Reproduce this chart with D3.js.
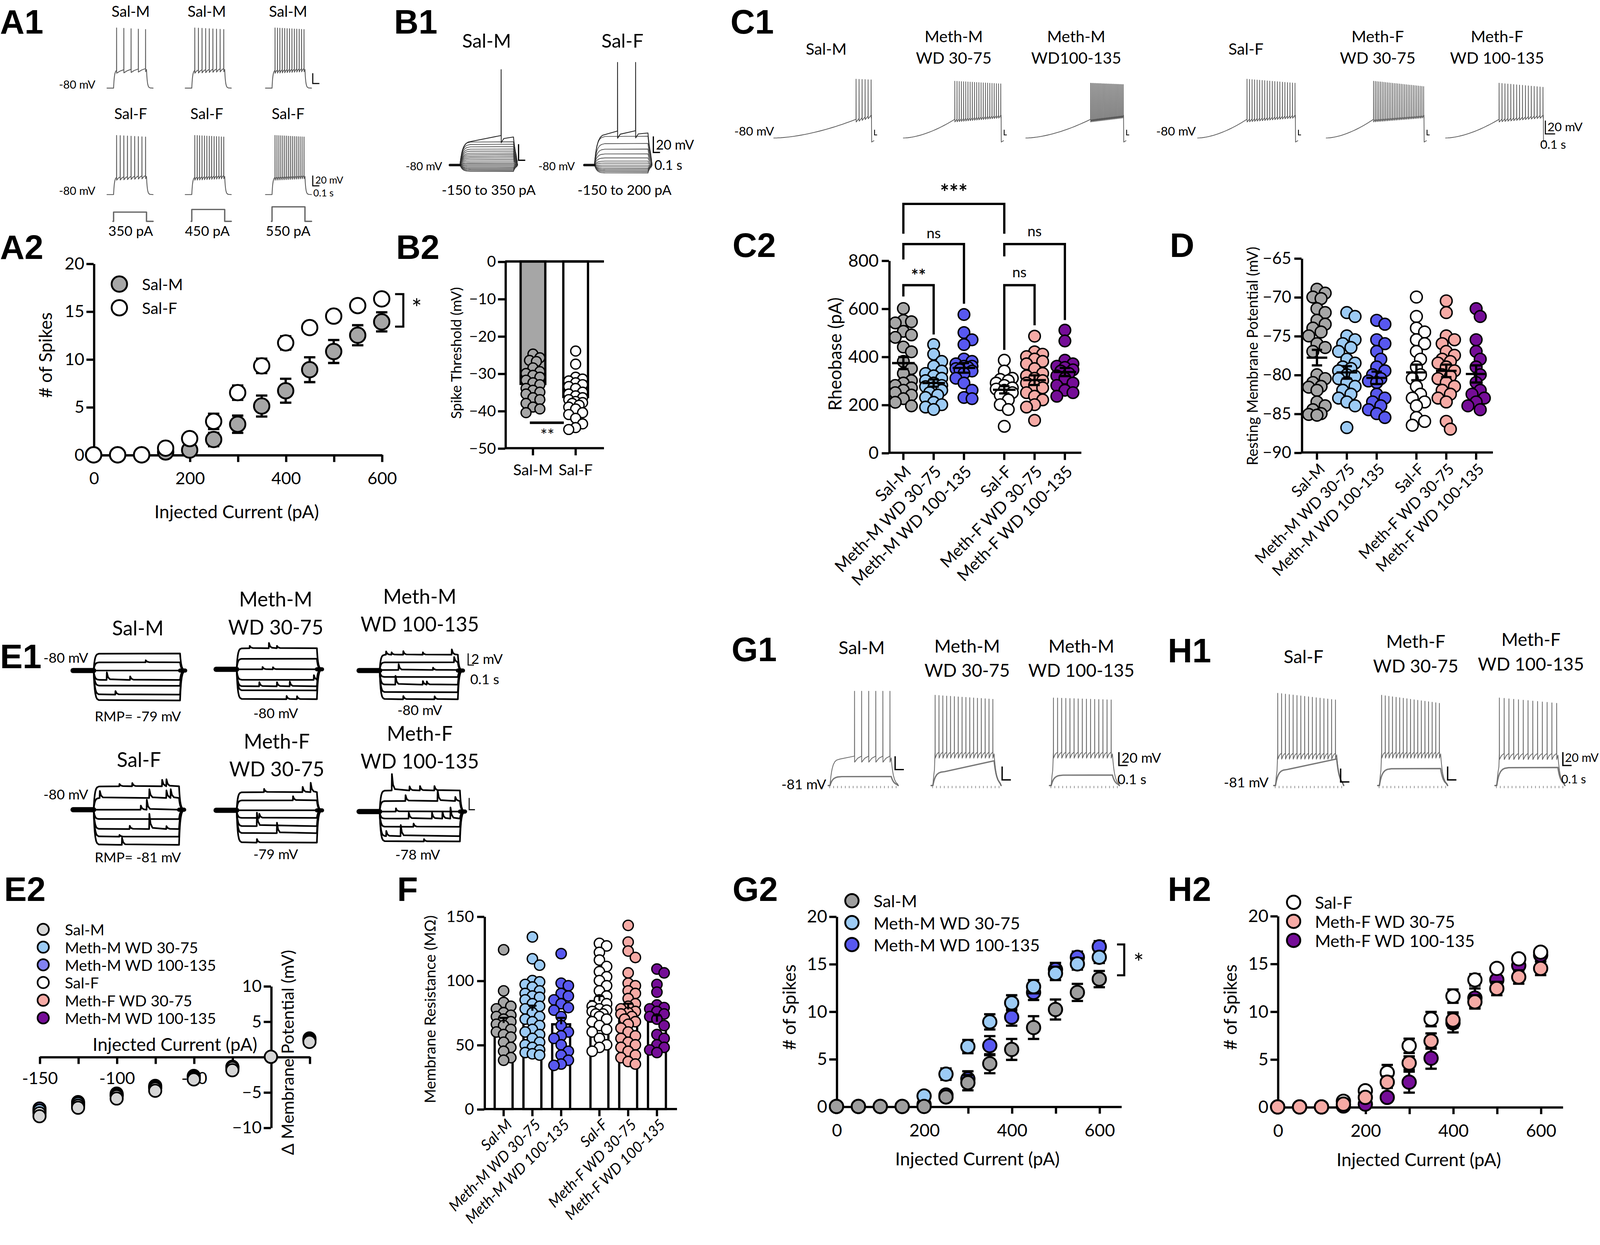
<!DOCTYPE html>
<html>
<head>
<meta charset="utf-8">
<script src="https://cdn.jsdelivr.net/npm/d3@7"></script>
<style>
  html, body { margin: 0; padding: 0; background: #fff; }
  svg { display: block; }
</style>
</head>
<body>
<svg id="fig" width="4130" height="3188" viewBox="0 0 1568 1210"></svg>
<script>
// ---------------- data ----------------
const groupNames = ["Sal-M", "Meth-M WD 30-75", "Meth-M WD 100-135", "Sal-F", "Meth-F WD 30-75", "Meth-F WD 100-135"];
const groupColors = ["#a6a6a6", "#9ccbf5", "#5858f0", "#ffffff", "#f6aaa5", "#750d97"];

// A1 / A2 : Sal-M vs Sal-F
const a1Currents = [350, 450, 550];
const a1SalMSpikes = [5, 9, 13];
const a1SalFSpikes = [9, 13, 16];

const currentSteps = [0, 50, 100, 150, 200, 250, 300, 350, 400, 450, 500, 550, 600];
const a2SalM    = [0, 0, 0, 0.3, 0.5, 1.6, 3.2, 5.1, 6.7, 8.9, 10.8, 12.5, 13.9];
const a2SalMSem = [0, 0, 0, 0.1, 0.2, 0.7, 0.9, 1.1, 1.25, 1.3, 1.2, 1.05, 1.0];
const a2SalF    = [0, 0, 0, 0.7, 1.7, 3.5, 6.5, 9.3, 11.7, 13.3, 14.5, 15.6, 16.3];
const a2SalFSem = [0, 0, 0, 0.2, 0.4, 0.8, 0.75, 0.75, 0.7, 0.6, 0.3, 0.3, 0.3];

// B1 : step families (steady-state mV per current step)
const b1SalMLevels = [-88, -86.8, -85.5, -84.3, -83, -81.5, -80, -78.5, -77, -75, -73, -71, -69, -67, -65, -62.5, -60, -57, -54, -51];
const b1SalFLevels = [-90, -88.5, -87, -85.5, -84, -82, -80, -77.5, -75, -71, -66, -60, -53, -44];
const b1SalMSpikeTimes = [615];
const b1SalFSpikeTimes = [345, 615];

// B2 : spike threshold (mV)
const b2Mean = [-32.8, -36.3];
const b2SalM = [-24.8, -25.8, -26.5, -26.8, -28.5, -29.5, -30.0, -30.5, -31.0, -31.8, -32.5, -33.0, -34.0, -34.5, -35.0, -35.5, -36.5, -37.0, -38.0, -39.0, -39.5, -40.5];
const b2SalF = [-24.0, -27.5, -31.0, -31.5, -32.0, -32.5, -33.0, -33.5, -34.0, -35.0, -35.5, -36.0, -36.5, -37.0, -37.5, -37.8, -38.0, -38.5, -39.0, -39.5, -40.5, -41.0, -42.0, -43.5, -44.5, -45.0];

// C1 : ramp sweeps
const c1Onset  = [842, 526, 663, 505, 484, 547];   // ms to first spike
const c1Spikes = [6, 22, 28, 20, 30, 16];
const c1Peak   = [8, 5, 2, 8, 5, 2];
const c1Drop   = [1, 4, 2, 6, 8, 6];

// C2 : rheobase (pA)
const c2SalM     = [600, 550, 545, 540, 505, 490, 480, 440, 420, 380, 350, 330, 300, 290, 280, 270, 260, 250, 240, 225, 210, 195];
const c2MethM30  = [450, 410, 380, 360, 340, 330, 320, 310, 300, 290, 280, 275, 270, 260, 250, 240, 230, 210, 200, 190, 180];
const c2MethM100 = [575, 500, 470, 450, 390, 380, 370, 360, 360, 355, 350, 345, 340, 330, 310, 290, 260, 230, 225];
const c2SalF     = [385, 340, 310, 305, 300, 290, 280, 270, 265, 260, 250, 240, 220, 200, 180, 110];
const c2MethF30  = [485, 420, 410, 400, 390, 380, 370, 350, 330, 320, 310, 300, 290, 280, 270, 250, 235, 220, 200, 190, 135];
const c2MethF100 = [510, 465, 385, 370, 360, 355, 345, 340, 330, 320, 310, 290, 280, 260, 250, 235];
const c2Mean = [373, 290, 353, 262, 302, 336];
const c2Sem  = [25, 15, 20, 15, 20, 17];
// [from, to, top, left leg end, right leg end, label, label y]
const c2Brackets = [
  [0, 3, 1035, 911, 911, "***", 1087],
  [0, 2, 868, 804, 620, "ns", 915],
  [0, 1, 697, 650, 492, "**", 740],
  [3, 5, 868, 817, 552, "ns", 924],
  [3, 4, 697, 428, 530, "ns", 753]
];

// D : resting membrane potential (mV)
const dSalM     = [-69, -69.5, -70, -70.2, -71.5, -72, -73, -73.5, -74, -74.5, -75, -76, -76.5, -77, -80, -80.5, -81, -81.5, -81.6, -82, -83.5, -84, -84.5, -85, -85.1, -85.2];
const dMethM30  = [-72, -72.5, -75, -75.5, -76, -76.5, -77, -78, -78.5, -79, -79.2, -79.5, -80, -80.2, -80.5, -81, -81.5, -82, -82.5, -83, -83.5, -84, -86.8];
const dMethM100 = [-73, -73.5, -75.5, -76, -77, -78, -79, -79.5, -80, -80.5, -80.8, -81, -82.5, -83, -83.5, -84, -84.5, -85, -85.5];
const dSalF     = [-70, -72.5, -74, -74.5, -75.5, -76, -77, -78, -79, -80, -80.5, -81.5, -82.5, -83, -83.5, -84, -85.5, -86, -86.5];
const dMethF30  = [-70.5, -72, -75, -75.5, -76, -77, -77.5, -78, -78.3, -78.5, -79, -79.5, -80, -80.2, -80.5, -81, -81.5, -82, -82.5, -83, -83.5, -86, -87];
const dMethF100 = [-71.5, -72.5, -75.5, -77, -78, -79, -80, -81, -82, -82.5, -83, -83.5, -84, -84.5];
const dMean = [-77.8, -79.7, -80.4, -79.7, -79.5, -79.9];
const dSem  = [1.0, 0.8, 0.8, 1.0, 0.8, 1.1];

// E1 : subthreshold step levels (mV from holding) and synaptic events [sweep, fraction, mV]
const e1SalMLevels     = [2.9, 1.4, 0, -1.6, -2.6, -4.1, -5.1];
const e1MethM30Levels  = [3.6, 1.8, 0, -1.8, -2.9, -3.6, -5.1];
const e1MethM100Levels = [2.7, 1.4, 0.1, -1.1, -2.4, -3.7, -4.9];
const e1SalFLevels     = [4.0, 2.0, 0, -1.6, -3.3, -4.6, -6.0];
const e1MethF30Levels  = [3.1, 1.7, 0, -1.3, -2.7, -3.9, -5.5];
const e1MethF100Levels = [3.6, 1.8, 0, -1.2, -2.6, -4.2, -5.1];
const e1SalMEvents     = [[3, 0.15, 1.3], [3, 0.42, 0.6], [5, 0.25, 0.6], [1, 0.6, 0.35]];
const e1MethM30Events  = [[0, 0.16, 0.4], [0, 0.4, 0.9], [0, 0.5, 0.4], [2, 0.32, 0.4], [2, 0.45, 0.35], [3, 0.96, 0.8], [4, 0.28, 0.7], [4, 0.5, 0.7], [4, 0.66, 0.8], [6, 0.62, 0.55], [6, 0.75, 0.5]];
const e1MethM100Events = [[0, 0.08, 0.55], [0, 0.15, 0.4], [0, 0.3, 0.6], [0, 0.55, 0.4], [0, 0.92, 0.9], [1, 0.95, 0.9], [2, 0.24, 1.0], [2, 0.68, 0.4], [4, 0.2, 1.5], [4, 0.55, 0.6], [4, 0.6, 0.55], [6, 0.3, 0.55], [6, 0.7, 0.5]];
const e1SalFEvents     = [[0, 0.3, 0.4], [0, 0.45, 0.55], [0, 0.8, 1.1], [0, 0.85, 1.2], [1, 0.07, 1.2], [1, 0.65, 1.5], [1, 0.85, 1.3], [1, 0.9, 1.5], [2, 0.55, 0.7], [2, 0.62, 1.7], [4, 0.42, 0.55], [4, 0.65, 2.6], [4, 0.85, 0.5], [5, 0.3, 0.3], [6, 0.33, 1.2]];
const e1MethF30Events  = [[0, 0.34, 0.55], [0, 0.82, 0.9], [0, 0.92, 1.6], [1, 0.7, 0.7], [3, 0.28, 0.7], [4, 0.25, 2.3], [5, 0.5, 1.8], [6, 0.25, 0.6]];
const e1MethF100Events = [[0, 0.15, 2.8], [0, 0.37, 0.7], [0, 0.5, 0.75], [0, 0.68, 0.75], [1, 0.32, 1.0], [1, 0.72, 1.8], [1, 0.94, 0.7], [2, 0.2, 0.55], [3, 0.36, 1.0], [3, 0.65, 1.0], [3, 0.78, 1.2], [3, 0.88, 1.9], [4, 0.42, 0.55], [5, 0.08, 0.9], [5, 0.26, 1.9], [6, 0.55, 0.4]];

// E2 : delta membrane potential (mV)
const e2Currents  = [-150, -125, -100, -75, -50, -25, 0, 25];
const e2SalM      = [-8.4, -7.2, -5.9, -4.8, -3.2, -1.9, 0, 2.1];
const e2MethM30   = [-7.6, -6.6, -5.4, -4.3, -2.8, -1.5, 0, 2.4];
const e2MethM100  = [-7.3, -6.4, -5.2, -4.1, -2.7, -1.4, 0, 2.5];
const e2SalF      = [-8.0, -6.9, -5.6, -4.5, -3.0, -1.6, 0, 2.3];
const e2MethF30   = [-7.8, -6.8, -5.5, -4.4, -2.9, -1.6, 0, 2.4];
const e2MethF100  = [-7.5, -6.5, -5.3, -4.2, -2.8, -1.5, 0, 2.6];
const e2Labels = ["Sal-M", "Meth-M WD 30-75", "Meth-M WD 100-135", "Sal-F", "Meth-F WD 30-75", "Meth-M WD 100-135"];
const e2Colors = ["#d6d6d6", "#9ccbf5", "#8282f2", "#ffffff", "#f6aaa5", "#750d97"];

// F : membrane resistance (MOhm)
const fSalM     = [124, 92, 83, 80, 78, 75, 73, 72, 70, 68, 66, 65, 62, 60, 58, 56, 52, 48, 45, 40, 38];
const fMethM30  = [134, 117, 112, 100, 99, 97, 95, 92, 90, 88, 87, 85, 82, 80, 78, 75, 72, 70, 68, 65, 62, 60, 58, 55, 52, 50, 48, 46, 44, 43, 42];
const fMethM100 = [121, 98, 96, 90, 88, 85, 82, 79, 77, 72, 65, 60, 57, 55, 50, 45, 42, 38, 35, 34];
const fSalF     = [129, 127, 122, 116, 111, 107, 103, 100, 96, 92, 88, 85, 82, 80, 78, 77, 76, 74, 74, 72, 70, 68, 65, 62, 60, 55, 50, 48, 45];
const fMethF30  = [143, 130, 123, 118, 106, 98, 96, 92, 90, 86, 82, 80, 78, 76, 75, 74, 72, 70, 68, 66, 63, 60, 57, 55, 52, 50, 48, 45, 42, 40, 37, 35];
const fMethF100 = [109, 106, 97, 91, 81, 79, 78, 76, 74, 72, 70, 65, 58, 55, 50, 48, 46, 44];
const fMean = [67, 76.5, 66, 84, 77.5, 68];
const fSem  = [4, 4, 5, 4, 4.5, 5];

// G1 / H1 : step sweeps (spiking + subthreshold)
const g1Spikes = [6, 16, 15, 16, 17, 13];
const g1First  = [280, 25, 25, 25, 25, 30];
const g1Peak   = [60, 54, 50, 57, 54, 50];
const g1Drop   = [0, 6, 3, 10, 12, 8];
const g1Thr    = [-37, -31, -31, -32.5, -31, -33];
const g1SubStart = [-67.5, -60, -65.3, -56.7, -55.6, -54];
const g1SubEnd   = [-67.5, -44, -65.3, -41.2, -55.6, -54];

// G2 / H2
const g2SalM        = [0, 0, 0, 0, 0, 1.0, 2.5, 4.5, 6.0, 8.3, 10.2, 12.0, 13.4];
const g2SalMSem     = [0, 0, 0, 0, 0, 0.3, 0.8, 1.0, 1.1, 1.2, 1.05, 0.9, 0.85];
const g2MethM30     = [0, 0, 0, 0, 1.1, 3.4, 6.3, 8.9, 10.9, 12.6, 14.0, 15.0, 15.7];
const g2MethM30Sem  = [0, 0, 0, 0, 0.3, 0.6, 0.7, 0.8, 0.8, 0.7, 0.7, 0.6, 0.6];
const g2MethM100    = [0, 0, 0, 0, 0.2, 1.2, 2.9, 6.4, 9.4, 12.0, 14.4, 15.7, 16.8];
const g2MethM100Sem = [0, 0, 0, 0, 0.1, 0.3, 0.8, 1.0, 0.9, 0.8, 0.7, 0.6, 0.6];

const h2SalF        = [0, 0, 0, 0.6, 1.7, 3.6, 6.4, 9.2, 11.6, 13.3, 14.5, 15.5, 16.2];
const h2SalFSem     = [0, 0, 0, 0.2, 0.4, 0.8, 0.75, 0.75, 0.7, 0.6, 0.3, 0.3, 0.3];
const h2MethF30     = [0, 0, 0, 0.3, 1.0, 2.6, 4.6, 6.9, 9.1, 11.0, 12.4, 13.6, 14.5];
const h2MethF30Sem  = [0, 0, 0, 0.1, 0.3, 0.6, 0.7, 0.8, 0.8, 0.7, 0.7, 0.7, 0.7];
const h2MethF100    = [0, 0, 0, 0.1, 0.3, 1.0, 2.6, 5.1, 8.8, 11.4, 13.3, 14.8, 15.9];
const h2MethF100Sem = [0, 0, 0, 0.1, 0.2, 0.3, 1.1, 1.1, 1.0, 1.0, 0.8, 0.7, 0.6];

// ---------------- helpers ----------------
const svg = d3.select("#fig");
const FONT = "Lato, 'Open Sans', 'DejaVu Sans', sans-serif";
const LETTER = "'Liberation Sans', Arial, sans-serif";
const groupSlots = [0, 1, 2, 3.33, 4.33, 5.33];

function txt(g, str, x, y, size, o = {}) {
  const t = g.append("text")
    .attr("x", x).attr("y", y)
    .attr("font-size", size)
    .attr("font-family", o.family || FONT)
    .attr("text-anchor", o.anchor || "middle")
    .attr("dominant-baseline", "central")
    .attr("fill", "#000")
    .text(str);
  if (o.weight) t.attr("font-weight", o.weight);
  if (o.italic) t.attr("font-style", "italic");
  if (o.rotate != null) t.attr("transform", `rotate(${o.rotate},${x},${y})`);
  return t;
}

function panelLetter(str, x, y) {
  txt(svg, str, x, y, 33, { anchor: "start", family: LETTER, weight: "bold" });
}

function styleAxis(sel, size) {
  sel.attr("font-family", null).attr("font-size", null);
  sel.select(".domain").attr("stroke", "#000").attr("stroke-width", 2.2);
  sel.selectAll(".tick line").attr("stroke", "#000").attr("stroke-width", 2.2);
  sel.selectAll(".tick text").attr("font-family", FONT).attr("font-size", size).attr("fill", "#000");
}

function drawTrace(g, pts, xs, ys, color, width) {
  g.append("path").datum(pts)
    .attr("d", d3.line().x(d => xs(d[0])).y(d => ys(d[1])))
    .attr("fill", "none").attr("stroke", color).attr("stroke-width", width)
    .attr("stroke-linejoin", "round").attr("stroke-linecap", "round");
}

function scaleBar(g, x, y, w, h, width) {
  // vertical bar of height h ending at y, then horizontal of length w
  g.append("path").attr("d", `M${x},${y - h}V${y}H${x + w}`)
    .attr("fill", "none").attr("stroke", "#000").attr("stroke-width", width || 1);
}

const chargeSteps = [0.08, 0.2, 0.4, 0.7, 1, 1.5, 2.2, 3, 4.5];

// sweep with a current step, optional train of spikes riding on a plateau
function stepSweep(p) {
  const on = p.pre, off = p.pre + p.dur, end = off + p.post;
  const pts = [[0, p.rest], [on, p.rest]];
  const n = p.spikes || 0;
  const firstT = n ? on + p.first : off;
  const target = n ? (p.approach ?? p.thr) : p.plat;
  for (const f of chargeSteps) {
    const t = on + f * p.tau;
    if (t >= firstT) break;
    pts.push([t, p.rest + (target - p.rest) * (1 - Math.exp(-f))]);
  }
  let vOff;
  if (n) {
    const lastT = off - (p.tail ?? 20);
    const isi = n > 1 ? (lastT - firstT) / (n - 1) : 0;
    for (let i = 0; i < n; i++) {
      const ts = firstT + i * isi;
      const k = n > 1 ? i / (n - 1) : 0;
      const trough = p.thr + (p.thrRise || 0) * k;
      const peak = p.peak - (p.drop || 0) * k;
      pts.push([ts, trough], [ts + 0.6, peak], [ts + 1.6, trough - p.ahp]);
      if (i < n - 1) pts.push([ts + isi * 0.45, trough - p.ahp * 0.35]);
    }
    vOff = p.thr + (p.thrRise || 0) - p.ahp * 0.3;
    pts.push([off, vOff]);
  } else {
    vOff = p.platEnd ?? p.plat;
    pts.push([off, vOff]);
  }
  for (const f of chargeSteps) {
    const t = off + f * p.tau;
    if (t < end) pts.push([t, p.rest + (vOff - p.rest) * Math.exp(-f)]);
  }
  pts.push([end, p.rest]);
  return pts;
}

// top sweep of a family: ramping plateau with spikes at given times
function topSweep(p) {
  const on = p.pre, off = p.pre + p.dur;
  const pts = [[0, p.rest], [on, p.rest]];
  for (const f of chargeSteps) pts.push([on + f * p.tau, p.rest + (p.vStart - p.rest) * (1 - Math.exp(-f))]);
  const lvl = t => p.vStart + (p.vEnd - p.vStart) * (t - on) / p.dur;
  for (const s of p.spikeTimes) {
    const ts = on + s;
    pts.push([ts, lvl(ts) + 3], [ts + 0.6, p.peak], [ts + 2, lvl(ts) - 6], [ts + 40, lvl(ts + 40) - 1]);
  }
  pts.push([off, p.vEnd]);
  for (const f of chargeSteps) {
    const t = off + f * p.tau;
    if (t < off + p.post) pts.push([t, p.rest + (p.vEnd - p.rest) * Math.exp(-f)]);
  }
  pts.push([off + p.post, p.rest]);
  return pts;
}

// ramp sweep (C1)
function rampSweep(p) {
  const pts = [];
  for (let i = 0; i <= 24; i++) {
    pts.push([p.onset * i / 24, p.rest + (p.thr - p.rest) * Math.pow(i / 24, 1.7)]);
  }
  const isi = (p.dur - 4 - p.onset) / Math.max(1, p.spikes - 1);
  for (let i = 0; i < p.spikes; i++) {
    const ts = p.onset + i * isi, k = i / Math.max(1, p.spikes - 1);
    const trough = p.thr + p.thrRise * k, peak = p.peak - p.drop * k;
    pts.push([ts, trough], [ts + 0.5, peak], [ts + 1.5, trough - 4]);
  }
  pts.push([p.dur, p.thr + p.thrRise], [p.dur + 2, p.rest - 6], [p.dur + 25, p.rest - 4]);
  return pts;
}

// subthreshold sweep with small synaptic events (E1)
function subSweep(p) {
  const on = p.pre, off = on + p.dur;
  const pts = [[on, p.rest]];
  for (const f of chargeSteps) pts.push([on + f * p.tau, p.rest + (p.level - p.rest) * (1 - Math.exp(-f))]);
  for (const [fr, amp] of p.events) {
    const t = on + fr * p.dur;
    pts.push([t, p.level], [t + 4, p.level + amp], [t + 25, p.level + amp * 0.35], [t + 60, p.level + amp * 0.08]);
  }
  pts.push([off, p.level]);
  pts.sort((a, b) => a[0] - b[0]);
  for (const f of chargeSteps) pts.push([off + f * p.tau, p.rest + (p.level - p.rest) * Math.exp(-f)]);
  return pts;
}

// beeswarm offsets for dot plots
function swarmOffsets(vals, y, r, spread) {
  const placed = [];
  const order = d3.range(vals.length).sort((a, b) => d3.descending(vals[a], vals[b]));
  const off = new Array(vals.length).fill(0);
  const minD = r * 1.45;
  const steps = [0, 0.7, -0.7, 1.4, -1.4, 2.1, -2.1, 2.8, -2.8];
  for (const i of order) {
    const yi = y(vals[i]);
    let best = 0, bestScore = -Infinity;
    for (const s of steps) {
      const xo = s * r;
      if (Math.abs(xo) > spread) continue;
      const dmin = placed.length ? d3.min(placed, q => Math.hypot(q[0] - xo, q[1] - yi)) : Infinity;
      if (dmin >= minD) { best = xo; break; }
      if (dmin > bestScore) { bestScore = dmin; best = xo; }
    }
    off[i] = best;
    placed.push([best, yi]);
  }
  return off;
}

function dots(g, vals, cx, y, r, spread, color, sw) {
  const off = swarmOffsets(vals, y, r, spread);
  g.selectAll(null).data(vals).enter().append("circle")
    .attr("cx", (d, i) => cx + off[i]).attr("cy", d => y(d)).attr("r", r)
    .attr("fill", color).attr("stroke", "#000").attr("stroke-width", sw || 1.4);
}

function meanSem(g, cx, y, m, s, half, cap) {
  g.append("path")
    .attr("d", `M${cx - half},${y(m)}H${cx + half}M${cx},${y(m - s)}V${y(m + s)}M${cx - cap},${y(m - s)}H${cx + cap}M${cx - cap},${y(m + s)}H${cx + cap}`)
    .attr("stroke", "#000").attr("stroke-width", 2.2).attr("fill", "none");
}

function categoryAxis(g, x, yPix, xLeft, xRight, size, dx, dy, italic) {
  g.append("path").attr("d", `M${xLeft},${yPix}H${xRight}`).attr("stroke", "#000").attr("stroke-width", 2.2);
  groupNames.forEach((name, i) => {
    const cx = x(groupSlots[i]);
    g.append("path").attr("d", `M${cx},${yPix}V${yPix + 7}`).attr("stroke", "#000").attr("stroke-width", 2.2);
    txt(g, name, cx + dx, yPix + dy, size, { anchor: "end", rotate: -45, italic });
  });
}

function spikeSeries(g, x, y, vals, sems, color, r) {
  const cap = 5.5;
  vals.forEach((v, i) => {
    const e = sems[i];
    if (!e) return;
    const cx = x(currentSteps[i]);
    g.append("path")
      .attr("d", `M${cx},${y(v - e)}V${y(v + e)}M${cx - cap},${y(v - e)}H${cx + cap}M${cx - cap},${y(v + e)}H${cx + cap}`)
      .attr("stroke", "#000").attr("stroke-width", 2.2).attr("fill", "none");
  });
  g.selectAll(null).data(vals).enter().append("circle")
    .attr("cx", (d, i) => x(currentSteps[i])).attr("cy", d => y(d)).attr("r", r)
    .attr("fill", color).attr("stroke", "#000").attr("stroke-width", 1.8);
}

function spikeAxes(g, x, y, tickSize) {
  const ay = g.append("g").attr("transform", `translate(${x(0)},0)`)
    .call(d3.axisLeft(y).tickValues([0, 5, 10, 15, 20]).tickSize(7).tickSizeOuter(0).tickPadding(2));
  styleAxis(ay, tickSize);
  const ax = g.append("g").attr("transform", `translate(0,${y(0)})`)
    .call(d3.axisBottom(x).tickValues(d3.range(0, 601, 100)).tickSize(7).tickSizeOuter(0).tickPadding(10)
      .tickFormat(d => d % 200 ? "" : d));
  styleAxis(ax, tickSize);
}

// ---------------- panel letters ----------------
[["A1", 0, 21], ["B1", 383, 21], ["C1", 710, 21], ["A2", 0, 240], ["B2", 385, 240], ["C2", 712, 238],
 ["D", 1137, 238], ["E1", 0, 638], ["E2", 4, 864], ["F", 386, 864], ["G1", 711, 631], ["H1", 1135, 632],
 ["G2", 712, 864], ["H2", 1135, 864]].forEach(d => panelLetter(...d));

// ---------------- A1 ----------------
{
  const g = svg.append("g");
  const cols = [104, 180, 258];
  const rows = [
    { yBase: 85.5, counts: a1SalMSpikes, title: "Sal-M", ty: 10.5, peak: 37, thr: -45 },
    { yBase: 189, counts: a1SalFSpikes, title: "Sal-F", ty: 110, peak: 35, thr: -46 }
  ];
  rows.forEach(row => {
    const ys = d3.scaleLinear().domain([-80, -60]).range([row.yBase, row.yBase - 10]);
    cols.forEach((x0, ci) => {
      const xs = d3.scaleLinear().domain([0, 700]).range([x0, x0 + 44.8]);
      drawTrace(g, stepSweep({ pre: 100, dur: 500, post: 100, rest: -80, thr: row.thr, peak: row.peak,
        spikes: row.counts[ci], first: 45, tail: 15, ahp: 6, thrRise: 3, drop: 3, tau: 12 }), xs, ys, "#555", 0.8);
      txt(g, row.title, [127, 201, 280][ci], row.ty, 14.5);
    });
    txt(g, "-80 mV", 75, row.yBase - 4, 11);
  });
  // scale bars (20 mV / 0.1 s)
  scaleBar(g, 304, 81, 6.4, 10, 1);
  scaleBar(g, 304, 180.5, 6.4, 10, 1);
  txt(g, "20 mV", 306.5, 174.5, 9.5, { anchor: "start" });
  txt(g, "0.1 s", 304.5, 187, 9.5, { anchor: "start" });
  // current steps
  const yi = d3.scaleLinear().domain([0, 550]).range([215, 200.9]);
  cols.forEach((x0, ci) => {
    const xs = d3.scaleLinear().domain([0, 700]).range([x0, x0 + 44.8]);
    const pts = [[90, 0], [100, 0], [100, a1Currents[ci]], [600, a1Currents[ci]], [600, 0], [700, 0]];
    drawTrace(g, pts, xs, yi, "#666", 1.3);
    txt(g, `${a1Currents[ci]} pA`, [127, 201.5, 280][ci], 224, 13.5);
  });
}

// ---------------- B1 ----------------
{
  const g = svg.append("g");
  const sets = [
    { x0: 437.3, levels: b1SalMLevels, top: { vStart: -50, vEnd: -45, spikeTimes: b1SalMSpikeTimes, peak: 39 },
      title: "Sal-M", tx: 473, lx: 412, range: "-150 to 350 pA" },
    { x0: 568, levels: b1SalFLevels, top: { vStart: -41, vEnd: -40, spikeTimes: b1SalFSpikeTimes, peak: 48 },
      title: "Sal-F", tx: 605, lx: 541, range: "-150 to 200 pA" }
  ];
  const ys = d3.scaleLinear().domain([-80, -60]).range([160.3, 144.7]);
  sets.forEach(s => {
    const xs = d3.scaleLinear().domain([0, 1010]).range([s.x0, s.x0 + 1010 * 0.065]);
    s.levels.forEach(v => drawTrace(g, stepSweep({ pre: 150, dur: 800, post: 60, rest: -80, plat: v, tau: 35 }), xs, ys, "#3a3a3a", 0.6));
    drawTrace(g, topSweep(Object.assign({ pre: 150, dur: 800, post: 60, rest: -80, tau: 40 }, s.top)), xs, ys, "#222", 0.8);
    drawTrace(g, [[0, -80], [150, -80]], xs, ys, "#111", 2.4);
    txt(g, s.title, s.tx, 39, 18.5);
    txt(g, "-80 mV", s.lx, 161, 11);
    txt(g, s.range, s.tx + 2, 184, 13.5);
  });
  scaleBar(g, 504, 155.6, 6.5, 15.6, 1.2);
  scaleBar(g, 635, 148, 6.5, 15.6, 1.2);
  txt(g, "20 mV", 637.5, 140, 13, { anchor: "start" });
  txt(g, "0.1 s", 636, 160, 13, { anchor: "start" });
}

// ---------------- C1 ----------------
{
  const g = svg.append("g");
  const x0s = [752, 878, 997, 1164, 1289, 1405];
  const ys = d3.scaleLinear().domain([-80, -60]).range([134, 121]);
  x0s.forEach((x0, i) => {
    const xs = d3.scaleLinear().domain([0, 1000]).range([x0, x0 + 95]);
    drawTrace(g, rampSweep({ dur: 1000, onset: c1Onset[i], rest: -80, thr: -52, thrRise: 6,
      spikes: c1Spikes[i], peak: c1Peak[i], drop: c1Drop[i] }), xs, ys, "#555", 0.7);
    if (i < 5) scaleBar(g, x0 + 98, 131, 2.5, 5, 0.8);
  });
  const titles = [["Sal-M", 803, 47], ["Meth-M", 927, 35], ["WD 30-75", 927, 56], ["Meth-M", 1046, 35], ["WD100-135", 1046, 56],
    ["Sal-F", 1211, 47], ["Meth-F", 1339, 35], ["WD 30-75", 1339, 56], ["Meth-F", 1455, 35], ["WD 100-135", 1455, 56]];
  titles.forEach(t => txt(g, t[0], t[1], t[2], 15.5));
  txt(g, "-80 mV", 733, 127, 12);
  txt(g, "-80 mV", 1143, 127, 12);
  scaleBar(g, 1502, 130, 9.5, 13, 1);
  txt(g, "20 mV", 1504, 123, 12, { anchor: "start" });
  txt(g, "0.1 s", 1497, 140, 12, { anchor: "start" });
}

// ---------------- A2 ----------------
{
  const g = svg.append("g");
  const x = d3.scaleLinear().domain([0, 600]).range([91, 371]);
  const y = d3.scaleLinear().domain([0, 20]).range([442, 256]);
  spikeAxes(g, x, y, 16.5);
  spikeSeries(g, x, y, a2SalM, a2SalMSem, "#a6a6a6", 7.5);
  spikeSeries(g, x, y, a2SalF, a2SalFSem, "#ffffff", 7.5);
  txt(g, "# of Spikes", 44, 345, 17.5, { rotate: -90 });
  txt(g, "Injected Current (pA)", 230, 497, 17.5);
  [["Sal-M", "#a6a6a6", 276], ["Sal-F", "#ffffff", 299]].forEach(([n, c, ly]) => {
    g.append("circle").attr("cx", 116).attr("cy", ly).attr("r", 7.5).attr("fill", c).attr("stroke", "#000").attr("stroke-width", 1.8);
    txt(g, n, 138, ly, 15.5, { anchor: "start" });
  });
  const bx = x(645);
  g.append("path").attr("d", `M${bx - 8},${y(16.8)}H${bx}V${y(13.4)}H${bx - 8}`).attr("fill", "none").attr("stroke", "#000").attr("stroke-width", 2);
  txt(g, "*", bx + 13, y(15.4), 24);
}

// ---------------- B2 ----------------
{
  const g = svg.append("g");
  const y = d3.scaleLinear().domain([-50, 0]).range([435.5, 254]);
  const xs = [518, 559.5];
  const colors = ["#a6a6a6", "#ffffff"];
  const groups = [b2SalM, b2SalF];
  groups.forEach((vals, i) => {
    g.append("rect").attr("x", xs[i] - 12).attr("y", y(0)).attr("width", 24).attr("height", y(b2Mean[i]) - y(0))
      .attr("fill", colors[i]).attr("stroke", "#000").attr("stroke-width", 2.2);
  });
  groups.forEach((vals, i) => dots(g, vals, xs[i], y, 4.8, 9, colors[i], 1.3));
  const ay = g.append("g").attr("transform", "translate(491,0)")
    .call(d3.axisLeft(y).tickValues(d3.range(-50, 1, 10)).tickSize(7).tickSizeOuter(0).tickPadding(2));
  styleAxis(ay, 15);
  g.append("path").attr("d", `M491,${y(0)}H587M491,${y(-50)}H587`).attr("stroke", "#000").attr("stroke-width", 2.2);
  ["Sal-M", "Sal-F"].forEach((n, i) => {
    g.append("path").attr("d", `M${xs[i]},${y(-50)}V${y(-50) + 7}`).attr("stroke", "#000").attr("stroke-width", 2.2);
    txt(g, n, xs[i], 456, 15);
  });
  txt(g, "Spike Threshold (mV)", 443, 343, 14, { rotate: -90 });
  g.append("path").attr("d", `M515,${y(-43.2)}H548`).attr("stroke", "#000").attr("stroke-width", 2.5);
  txt(g, "**", 532, y(-46.3), 16);
}

// ---------------- C2 ----------------
{
  const g = svg.append("g");
  const x = d3.scaleLinear().domain([0, 5.33]).range([878, 1035]);
  const y = d3.scaleLinear().domain([0, 800]).range([440, 253]);
  const groups = [c2SalM, c2MethM30, c2MethM100, c2SalF, c2MethF30, c2MethF100];
  groups.forEach((vals, i) => dots(g, vals, x(groupSlots[i]), y, 5.6, 10, groupColors[i], 1.4));
  groups.forEach((vals, i) => meanSem(g, x(groupSlots[i]), y, c2Mean[i], c2Sem[i], 11, 5));
  const ay = g.append("g").attr("transform", "translate(864,0)")
    .call(d3.axisLeft(y).tickValues(d3.range(0, 801, 200)).tickSize(7).tickSizeOuter(0).tickPadding(3));
  styleAxis(ay, 17);
  categoryAxis(g, x, y(0), 864, 1051, 16, 4, 15, false);
  txt(g, "Rheobase (pA)", 811, 344, 17.5, { rotate: -90 });
  c2Brackets.forEach(([a, b, top, l, r, lab, ly]) => {
    const xa = x(groupSlots[a]), xb = x(groupSlots[b]);
    g.append("path").attr("d", `M${xa},${y(l)}V${y(top)}H${xb}V${y(r)}`).attr("fill", "none").attr("stroke", "#000").attr("stroke-width", 2.2);
    const bold = lab.includes("*");
    txt(g, lab, (xa + xb) / 2, y(ly), bold ? (lab === "***" ? 21 : 17) : 14, { weight: bold ? "bold" : null });
  });
}

// ---------------- D ----------------
{
  const g = svg.append("g");
  const x = d3.scaleLinear().domain([0, 5.33]).range([1280, 1434.7]);
  const y = d3.scaleLinear().domain([-90, -65]).range([439.7, 250.8]);
  const groups = [dSalM, dMethM30, dMethM100, dSalF, dMethF30, dMethF100];
  groups.forEach((vals, i) => dots(g, vals, x(groupSlots[i]), y, 5.7, 9, groupColors[i], 1.4));
  groups.forEach((vals, i) => meanSem(g, x(groupSlots[i]), y, dMean[i], dSem[i], 10, 5));
  const ay = g.append("g").attr("transform", "translate(1265,0)")
    .call(d3.axisLeft(y).tickValues(d3.range(-90, -64, 5)).tickSize(7).tickSizeOuter(0).tickPadding(3));
  styleAxis(ay, 16);
  categoryAxis(g, x, y(-90), 1265, 1451, 15, 4.5, 13, false);
  txt(g, "Resting Membrane Potential (mV)", 1217, 346, 14.5, { rotate: -90 });
}

// ---------------- E1 ----------------
{
  const g = svg.append("g");
  const mvPx = 5.7;
  const panels = [
    { x0: 71, w: 84, hold: 651.7, levels: e1SalMLevels, events: e1SalMEvents },
    { x0: 210, w: 78, hold: 650.5, levels: e1MethM30Levels, events: e1MethM30Events },
    { x0: 349, w: 76, hold: 651.7, levels: e1MethM100Levels, events: e1MethM100Events },
    { x0: 71, w: 83, hold: 787, levels: e1SalFLevels, events: e1SalFEvents },
    { x0: 210, w: 78, hold: 787.6, levels: e1MethF30Levels, events: e1MethF30Events },
    { x0: 349, w: 78, hold: 788.8, levels: e1MethF100Levels, events: e1MethF100Events }
  ];
  panels.forEach(p => {
    const pxMs = p.w / 1500;
    const pre = 20 / pxMs, post = 5 / pxMs;
    const xs = d3.scaleLinear().domain([0, pre + 1500 + post]).range([p.x0, p.x0 + 20 + p.w + 5]);
    const ys = d3.scaleLinear().domain([0, 1]).range([p.hold, p.hold - mvPx]);
    p.levels.forEach((lv, si) => {
      const ev = p.events.filter(e => e[0] === si).map(e => [e[1], e[2]]);
      drawTrace(g, subSweep({ pre, dur: 1500, rest: 0, level: lv, tau: 20, events: ev }), xs, ys, "#000", 1.6);
    });
    drawTrace(g, [[0, 0], [pre, 0]], xs, ys, "#000", 5);
    drawTrace(g, [[pre + 1500, 0], [pre + 1500 + post, 0]], xs, ys, "#000", 4);
  });
  const tx = [["Sal-M", 134, 610], ["Meth-M", 268, 582], ["WD 30-75", 268, 609], ["Meth-M", 408, 579], ["WD 100-135", 408, 606],
    ["Sal-F", 135, 738], ["Meth-F", 269, 720], ["WD 30-75", 269, 747], ["Meth-F", 408, 712.5], ["WD 100-135", 408, 739.5]];
  tx.forEach(t => txt(g, t[0], t[1], t[2], 19.5));
  [["-80 mV", 64, 639], ["RMP= -79 mV", 134, 696], ["-80 mV", 268, 693], ["-80 mV", 408, 690],
   ["-80 mV", 64, 772], ["RMP= -81 mV", 134, 833], ["-79 mV", 268, 830], ["-78 mV", 406, 830.5]]
    .forEach(t => txt(g, t[0], t[1], t[2], 13.5));
  scaleBar(g, 455, 646.4, 5.6, 11.4, 1);
  txt(g, "2 mV", 458, 640, 13.5, { anchor: "start" });
  txt(g, "0.1 s", 457, 660, 13.5, { anchor: "start" });
  scaleBar(g, 456, 787, 5.6, 11.4, 1);
}

// ---------------- E2 ----------------
{
  const g = svg.append("g");
  const x = d3.scaleLinear().domain([-150, 25]).range([38.4, 300.8]);
  const y = d3.scaleLinear().domain([-10, 10]).range([1096, 958.4]);
  const ax = g.append("g").attr("transform", `translate(0,${y(0)})`)
    .call(d3.axisBottom(x).tickValues(d3.range(-150, 26, 25)).tickSize(7).tickSizeOuter(0).tickPadding(8)
      .tickFormat(d => [-150, -100, -50].includes(d) ? d : ""));
  styleAxis(ax, 16.5);
  const ay = g.append("g").attr("transform", `translate(${x(0)},0)`)
    .call(d3.axisLeft(y).tickValues([-10, -5, 5, 10]).tickSize(7).tickSizeOuter(0).tickPadding(2));
  styleAxis(ay, 16.5);
  const series = [e2SalM, e2MethM30, e2MethM100, e2SalF, e2MethF30, e2MethF100];
  [5, 2, 4, 1, 3, 0].forEach(si => {
    g.selectAll(null).data(series[si]).enter().append("circle")
      .attr("cx", (d, i) => x(e2Currents[i])).attr("cy", d => y(d)).attr("r", 6)
      .attr("fill", e2Colors[si]).attr("stroke", "#000").attr("stroke-width", 1.6);
  });
  txt(g, "Injected Current (pA)", 170, 1015, 17.5);
  txt(g, "\u0394 Membrane Potential (mV)", 279, 1023, 16.5, { rotate: -90 });
  e2Labels.forEach((n, i) => {
    const ly = 903.4 + i * 17.2;
    g.append("circle").attr("cx", 42).attr("cy", ly).attr("r", 5.5).attr("fill", e2Colors[i]).attr("stroke", "#000").attr("stroke-width", 1.6);
    txt(g, n, 63, ly, 15, { anchor: "start" });
  });
}

// ---------------- F ----------------
{
  const g = svg.append("g");
  const x = d3.scaleLinear().domain([0, 5.33]).range([489.5, 638.5]);
  const y = d3.scaleLinear().domain([0, 150]).range([1078, 890.7]);
  const groups = [fSalM, fMethM30, fMethM100, fSalF, fMethF30, fMethF100];
  groups.forEach((vals, i) => {
    const cx = x(groupSlots[i]);
    g.append("rect").attr("x", cx - 8.7).attr("y", y(fMean[i])).attr("width", 17.4).attr("height", y(0) - y(fMean[i]))
      .attr("fill", "#fff").attr("stroke", "#000").attr("stroke-width", 2.2);
  });
  groups.forEach((vals, i) => dots(g, vals, x(groupSlots[i]), y, 5, 8, groupColors[i], 1.3));
  groups.forEach((vals, i) => {
    const cx = x(groupSlots[i]);
    g.append("path").attr("d", `M${cx},${y(fMean[i])}V${y(fMean[i] + fSem[i])}M${cx - 4},${y(fMean[i] + fSem[i])}H${cx + 4}`)
      .attr("stroke", "#000").attr("stroke-width", 2);
  });
  const ay = g.append("g").attr("transform", "translate(470.7,0)")
    .call(d3.axisLeft(y).tickValues([0, 50, 100, 150]).tickSize(7).tickSizeOuter(0).tickPadding(3));
  styleAxis(ay, 15.5);
  categoryAxis(g, x, y(0), 470.7, 658, 14.5, 5, 12, true);
  txt(g, "Membrane Resistance (M\u03A9)", 417.5, 981, 15, { rotate: -90 });
}

// ---------------- G1 / H1 ----------------
{
  const g = svg.append("g");
  const x0s = [805, 905, 1020, 1238, 1339, 1453];
  const ys = d3.scaleLinear().domain([-81, -61]).range([763.5, 750.5]);
  x0s.forEach((x0, i) => {
    const xs = d3.scaleLinear().domain([0, 800]).range([x0, x0 + 68]);
    g.append("path").attr("d", `M${x0 + 1},${ys(-81) + 1.5}H${x0 + 67}`).attr("stroke", "#999").attr("stroke-width", 2.2)
      .attr("stroke-dasharray", "0.8,3");
    drawTrace(g, stepSweep({ pre: 20, dur: 700, post: 80, rest: -81, plat: g1SubStart[i], platEnd: g1SubEnd[i], tau: 30 }), xs, ys, "#777", 1.3);
    drawTrace(g, stepSweep({ pre: 20, dur: 700, post: 80, rest: -81, thr: g1Thr[i], approach: g1Thr[i] - 4,
      spikes: g1Spikes[i], first: g1First[i], tail: 15, peak: g1Peak[i], drop: g1Drop[i], ahp: 9, thrRise: 0, tau: 25 }), xs, ys, "#666", 0.75);
  });
  const titles = [["Sal-M", 837.5, 629], ["Meth-M", 940, 627.5], ["WD 30-75", 940, 651], ["Meth-M", 1051, 627.5], ["WD 100-135", 1051, 651],
    ["Sal-F", 1267, 638], ["Meth-F", 1376, 623], ["WD 30-75", 1376, 647], ["Meth-F", 1488, 621], ["WD 100-135", 1488, 645]];
  titles.forEach(t => txt(g, t[0], t[1], t[2], 17.5));
  txt(g, "-81 mV", 803, 762, 13.5, { anchor: "end" });
  txt(g, "-81 mV", 1233, 760, 13.5, { anchor: "end" });
  scaleBar(g, 870, 748, 8.5, 13, 1.3);
  scaleBar(g, 974, 758, 8.5, 13, 1.3);
  scaleBar(g, 1087.5, 744, 8.5, 13, 1.3);
  scaleBar(g, 1303, 760, 8.5, 13, 1.3);
  scaleBar(g, 1407, 758, 8.5, 13, 1.3);
  scaleBar(g, 1519, 744, 8.5, 13, 1.3);
  txt(g, "20 mV", 1090, 736, 13.5, { anchor: "start" });
  txt(g, "0.1 s", 1086, 757, 13.5, { anchor: "start" });
  txt(g, "20 mV", 1521, 736, 11.5, { anchor: "start" });
  txt(g, "0.1 s", 1517.5, 757, 11.5, { anchor: "start" });
}

// ---------------- G2 ----------------
{
  const g = svg.append("g");
  const x = d3.scaleLinear().domain([0, 650]).range([813, 1089.7]);
  const y = d3.scaleLinear().domain([0, 20]).range([1075.5, 890.7]);
  spikeAxes(g, x, y, 17);
  spikeSeries(g, x, y, g2MethM100, g2MethM100Sem, groupColors[2], 6.5);
  spikeSeries(g, x, y, g2MethM30, g2MethM30Sem, groupColors[1], 6.5);
  spikeSeries(g, x, y, g2SalM, g2SalMSem, "#9e9e9e", 6.5);
  txt(g, "# of Spikes", 766.6, 979, 17.5, { rotate: -90 });
  txt(g, "Injected Current  (pA)", 950, 1126, 17.5);
  [["Sal-M", "#9e9e9e"], ["Meth-M WD 30-75", groupColors[1]], ["Meth-M WD 100-135", groupColors[2]]].forEach(([n, c], i) => {
    const ly = 875.5 + i * 21.3;
    g.append("circle").attr("cx", 828).attr("cy", ly).attr("r", 6.5).attr("fill", c).attr("stroke", "#000").attr("stroke-width", 1.8);
    txt(g, n, 849, ly, 16.5, { anchor: "start" });
  });
  const bx = x(657);
  g.append("path").attr("d", `M${bx - 7},${y(17.05)}H${bx}V${y(13.8)}H${bx - 7}`).attr("fill", "none").attr("stroke", "#000").attr("stroke-width", 2);
  txt(g, "*", bx + 14, y(15.2), 24);
}

// ---------------- H2 ----------------
{
  const g = svg.append("g");
  const x = d3.scaleLinear().domain([0, 650]).range([1241.8, 1518.7]);
  const y = d3.scaleLinear().domain([0, 20]).range([1076, 890.2]);
  spikeAxes(g, x, y, 17);
  spikeSeries(g, x, y, h2MethF100, h2MethF100Sem, groupColors[5], 6.5);
  spikeSeries(g, x, y, h2SalF, h2SalFSem, "#ffffff", 6.5);
  spikeSeries(g, x, y, h2MethF30, h2MethF30Sem, groupColors[4], 6.5);
  txt(g, "# of Spikes", 1195.3, 979, 17.5, { rotate: -90 });
  txt(g, "Injected Current  (pA)", 1379, 1127, 17.5);
  [["Sal-F", "#ffffff"], ["Meth-F WD 30-75", groupColors[4]], ["Meth-F WD 100-135", groupColors[5]]].forEach(([n, c], i) => {
    const ly = 877 + i * 18.5;
    g.append("circle").attr("cx", 1257.3).attr("cy", ly).attr("r", 6.5).attr("fill", c).attr("stroke", "#000").attr("stroke-width", 1.8);
    txt(g, n, 1278, ly, 16.5, { anchor: "start" });
  });
}
</script>
</body>
</html>
